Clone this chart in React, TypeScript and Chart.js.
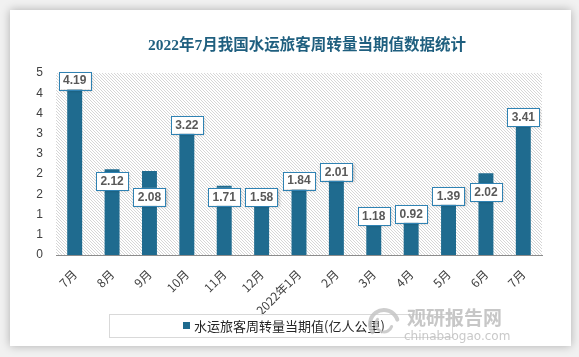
import React, { useEffect, useRef } from "react";
import { Chart, registerables } from "chart.js";

Chart.register(...registerables);

const TITLE = "2022年7月我国水运旅客周转量当期值数据统计";
const SERIES_NAME = "水运旅客周转量当期值(亿人公里)";
const categories = ["7月", "8月", "9月", "10月", "11月", "12月", "2022年1月", "2月", "3月", "4月", "5月", "6月", "7月"];
const values = [4.19, 2.12, 2.08, 3.22, 1.71, 1.58, 1.84, 2.01, 1.18, 0.92, 1.39, 2.02, 3.41];
const labelNudge = [-5, 12, 26, 0, 11, 6, 0, -2, 9, -4, -3, 19, 0];
const yMax = 4.5;
const yStep = 0.5;

const BAR = "#1f6b8f";
const CJK = '"Noto Sans CJK SC", "Liberation Sans", sans-serif';

const decor = {
  id: "decor",
  beforeDraw(chart: any) {
    const { ctx, width, height, chartArea } = chart;
    ctx.save();
    ctx.fillStyle = "#f1f1f1";
    ctx.fillRect(0, 0, width, height);
    ctx.shadowColor = "rgba(0,0,0,0.28)";
    ctx.shadowBlur = 9;
    ctx.fillStyle = "#ffffff";
    ctx.fillRect(10, 10, 561, 336);
    ctx.restore();

    // hatched plot background
    ctx.save();
    ctx.beginPath();
    ctx.rect(chartArea.left, chartArea.top, chartArea.right - chartArea.left, chartArea.bottom - chartArea.top);
    ctx.clip();
    ctx.strokeStyle = "#d6d6d6";
    ctx.lineWidth = 1;
    const h = chartArea.bottom - chartArea.top;
    for (let x = chartArea.left - h; x < chartArea.right + 4; x += 3) {
      ctx.beginPath();
      ctx.moveTo(x, chartArea.top);
      ctx.lineTo(x + h, chartArea.bottom);
      ctx.stroke();
    }
    ctx.restore();
  },
  afterDatasetsDraw(chart: any) {
    const { ctx } = chart;
    const meta = chart.getDatasetMeta(0);
    ctx.save();
    ctx.font = 'bold 12px "Liberation Sans", sans-serif';
    ctx.textAlign = "center";
    ctx.textBaseline = "middle";
    meta.data.forEach((bar: any, i: number) => {
      const txt = values[i].toFixed(2);
      const w = ctx.measureText(txt).width + 9;
      const hgt = 18;
      const cx = bar.x;
      const cy = bar.y + labelNudge[i];
      ctx.save();
      ctx.shadowColor = "rgba(0,0,0,0.3)";
      ctx.shadowBlur = 3;
      ctx.shadowOffsetX = 1;
      ctx.shadowOffsetY = 1;
      ctx.fillStyle = "#ffffff";
      ctx.fillRect(cx - w / 2, cy - hgt / 2, w, hgt);
      ctx.restore();
      ctx.strokeStyle = "#2f82b3";
      ctx.lineWidth = 1;
      ctx.strokeRect(Math.round(cx - w / 2) + 0.5, Math.round(cy - hgt / 2) + 0.5, Math.round(w), hgt);
      ctx.fillStyle = "#595959";
      ctx.fillText(txt, cx, cy + 0.5);
    });
    ctx.restore();
  },
  afterDraw(chart: any) {
    const { ctx } = chart;
    ctx.save();
    // title
    ctx.font = 'bold 15.5px "Liberation Serif", "Noto Sans CJK SC", serif';
    ctx.fillStyle = "#1f5f7f";
    ctx.textAlign = "center";
    ctx.textBaseline = "middle";
    ctx.fillText(TITLE, 307, 46);

    // legend
    ctx.strokeStyle = "#d9d9d9";
    ctx.lineWidth = 1;
    ctx.strokeRect(109.5, 314.5, 343, 23);
    ctx.fillStyle = BAR;
    ctx.fillRect(183, 322, 7, 7);
    ctx.font = "13px " + CJK;
    ctx.fillStyle = "#262626";
    ctx.textAlign = "left";
    ctx.fillText(SERIES_NAME, 194, 326);

    // watermark
    ctx.globalAlpha = 0.85;
    ctx.strokeStyle = "#c4c4c4";
    ctx.lineCap = "round";
    ctx.lineWidth = 4;
    ctx.beginPath();
    ctx.arc(384, 324, 14, Math.PI * 0.8, Math.PI * 1.9);
    ctx.stroke();
    ctx.lineWidth = 3;
    ctx.beginPath();
    ctx.arc(384, 324, 8, Math.PI * 0.1, Math.PI * 1.2);
    ctx.stroke();
    ctx.fillStyle = "#bdbdbd";
    ctx.font = 'bold 19px "Noto Sans CJK SC", sans-serif';
    ctx.fillText("观研报告网", 407, 318);
    ctx.font = '12px "DejaVu Sans", sans-serif';
    ctx.fillStyle = "#c0c0c0";
    ctx.fillText("chinabaogao.com", 404, 337);
    ctx.restore();
  },
};

export default function App() {
  const ref = useRef<HTMLCanvasElement>(null);
  useEffect(() => {
    if (!ref.current) return;
    const chart = new Chart(ref.current, {
      type: "bar",
      data: {
        labels: categories,
        datasets: [
          {
            label: SERIES_NAME,
            data: values,
            backgroundColor: BAR,
            borderWidth: 0,
            barPercentage: 0.4,
            categoryPercentage: 1,
          },
        ],
      },
      options: {
        responsive: false,
        animation: false,
        layout: { padding: { left: 10, top: 73, right: 37, bottom: 0 } },
        plugins: { legend: { display: false }, tooltip: { enabled: false }, title: { display: false } },
        scales: {
          x: {
            grid: { display: false },
            border: { display: true, color: "#8c8c8c", width: 1 },
            ticks: {
              minRotation: 45,
              maxRotation: 45,
              autoSkip: false,
              padding: 4,
              color: "#404040",
              font: { family: CJK, size: 12 },
            },
            afterFit(scale: any) {
              scale.height = 102;
            },
          },
          y: {
            min: 0,
            max: yMax,
            grid: { display: false, drawTicks: false },
            border: { display: false },
            ticks: {
              stepSize: yStep,
              padding: 13,
              color: "#404040",
              font: { family: '"Liberation Sans", sans-serif', size: 12 },
              callback: (v: any) => String(Math.round(Number(v))),
            },
            afterFit(scale: any) {
              scale.width = 46;
            },
          },
        },
      },
      plugins: [decor],
    });
    return () => chart.destroy();
  }, []);
  return (
    <div style={{ position: "fixed", left: 0, top: 0, width: 579, height: 357 }}>
      <canvas ref={ref} width={579} height={357} style={{ width: 579, height: 357, display: "block" }} />
    </div>
  );
}
